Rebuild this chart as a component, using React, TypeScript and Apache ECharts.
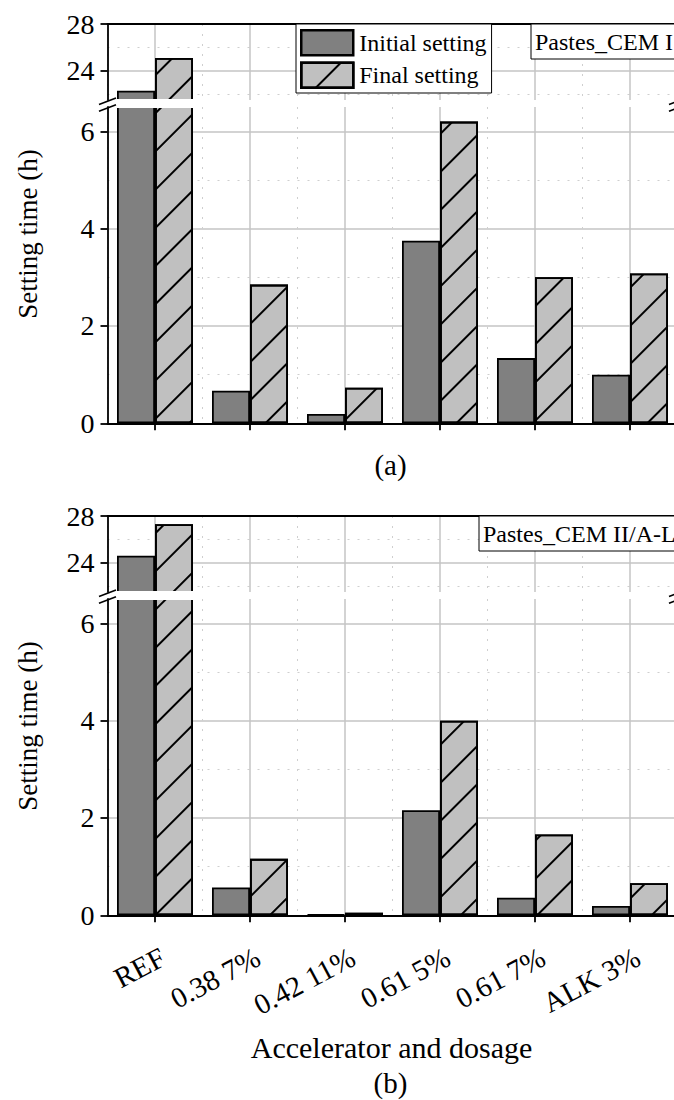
import React, { useEffect, useRef } from 'react';
import * as echarts from 'echarts';

// ---- data ----
const categories = ['REF', '0.38 7%', '0.42 11%', '0.61 5%', '0.61 7%', 'ALK 3%'];
const seriesNames = ['Initial setting', 'Final setting'];
const initialA = [22.3, 0.67, 0.19, 3.75, 1.34, 1.0];
const finalA = [25.1, 2.85, 0.73, 6.2, 3.0, 3.08];
const initialB = [24.6, 0.57, 0.02, 2.16, 0.36, 0.19];
const finalB = [27.3, 1.16, 0.05, 4.0, 1.66, 0.66];
const upperRange = [21.5, 28];
const lowerRange = [0, 6.5];
const upperTicks = [24, 28];
const upperMinorTicks = [22, 26];
const lowerTicks = [0, 2, 4, 6];
const lowerMinorTicks = [1, 3, 5];
const panelLabels = ['Pastes_CEM I', 'Pastes_CEM II/A-L'];
const captions = ['(a)', '(b)'];
const yTitle = 'Setting time (h)';
const xTitle = 'Accelerator and dosage';

// ---- layout / style ----
const FONT = '"Liberation Serif", "Times New Roman", serif';
const OFFSETS = [0, 492];
const LEFT = 107.5;
const WIDTH = 570;
const RIGHT = LEFT + WIDTH;
const BLACK = '#000';
const GRID_SOLID = '#c4c4c4';
const GRID_DOT = '#cfcfcf';
const AXIS_W = 1.8;
const hatch = {
  symbol: 'rect',
  symbolSize: 1,
  color: '#000',
  dashArrayX: [1, 0],
  dashArrayY: [2, 25],
  rotation: -Math.PI / 4,
};

function buildOption() {
  const grid: any[] = [];
  const xAxis: any[] = [];
  const yAxis: any[] = [];
  const series: any[] = [];
  const graphic: any[] = [];
  const centers = categories.map((_, i) => i + 0.5);
  const panelData = [
    [initialA, finalA],
    [initialB, finalB],
  ];

  OFFSETS.forEach((o, pi) => {
    const parts = [
      { top: 24 + o, height: 76, range: upperRange, major: upperTicks, minor: upperMinorTicks, lower: false },
      { top: 107 + o, height: 316.3, range: lowerRange, major: lowerTicks, minor: lowerMinorTicks, lower: true },
    ];
    parts.forEach((p) => {
      const g = grid.length;
      grid.push({ left: LEFT, top: p.top, width: WIDTH, height: p.height, containLabel: false, outerBoundsMode: 'none' });
      xAxis.push({
        type: 'category',
        gridIndex: g,
        position: 'bottom',
        data: categories,
        boundaryGap: true,
        axisLine: { show: p.lower, onZero: false, lineStyle: { color: BLACK, width: AXIS_W } },
        axisTick: { show: p.lower, alignWithLabel: true, length: 7, inside: false, lineStyle: { color: BLACK, width: AXIS_W } },
        axisLabel: {
          show: p.lower && pi === 1,
          interval: 0,
          rotate: 28,
          margin: 44,
          padding: [0, -9, 0, 0],
          fontSize: 29,
          fontFamily: FONT,
          color: BLACK,
        },
        splitLine: { show: true, interval: 0, lineStyle: { type: [2, 8], color: GRID_DOT, width: 1 } },
      });
      xAxis.push({
        type: 'value',
        gridIndex: g,
        position: 'top',
        min: 0,
        max: categories.length,
        axisLine: { show: !p.lower, onZero: false, lineStyle: { color: BLACK, width: AXIS_W } },
        axisTick: { show: false, customValues: centers },
        axisLabel: { show: false, customValues: centers },
        splitLine: { show: true, lineStyle: { color: GRID_SOLID, width: 1.5 } },
      });
      yAxis.push({
        type: 'value',
        gridIndex: g,
        position: 'left',
        min: p.range[0],
        max: p.range[1],
        axisLine: { show: true, onZero: false, lineStyle: { color: BLACK, width: AXIS_W } },
        axisTick: { show: true, length: 7, customValues: p.major, lineStyle: { color: BLACK, width: AXIS_W } },
        axisLabel: { show: true, customValues: p.major, margin: 13, fontSize: 28, fontFamily: FONT, color: BLACK },
        splitLine: { show: true, lineStyle: { color: GRID_SOLID, width: 1.5 } },
      });
      yAxis.push({
        type: 'value',
        gridIndex: g,
        position: 'right',
        min: p.range[0],
        max: p.range[1],
        axisLine: { show: false, onZero: false },
        axisTick: { show: false, customValues: p.minor },
        axisLabel: { show: false, customValues: p.minor },
        splitLine: { show: true, lineStyle: { type: [2, 8], color: GRID_DOT, width: 1 } },
      });
      const [ini, fin] = panelData[pi];
      series.push({
        type: 'bar',
        name: seriesNames[0],
        xAxisIndex: 2 * g,
        yAxisIndex: 2 * g,
        data: ini,
        barWidth: 38,
        barGap: '0%',
        clip: true,
        silent: true,
        itemStyle: { color: '#808080', borderColor: BLACK, borderWidth: AXIS_W },
      });
      series.push({
        type: 'bar',
        name: seriesNames[1],
        xAxisIndex: 2 * g,
        yAxisIndex: 2 * g,
        data: fin,
        barWidth: 38,
        barGap: '0%',
        clip: true,
        silent: true,
        itemStyle: { color: '#c0c0c0', borderColor: BLACK, borderWidth: AXIS_W, decal: hatch },
      });
    });

    // break band & marks
    graphic.push({
      type: 'rect',
      z: 100,
      shape: { x: LEFT + 1.5, y: 99 + o, width: 92, height: 9 },
      style: { fill: '#fff' },
    });
    [LEFT, RIGHT].forEach((bx) => {
      [0, 6.8].forEach((dy) => {
        graphic.push({
          type: 'line',
          z: 101,
          shape: { x1: bx - 8.5, y1: 104.5 + dy + o, x2: bx + 8.5, y2: 98 + dy + o },
          style: { stroke: BLACK, lineWidth: 1.6 },
        });
      });
    });

    // panel label box
    const label = panelLabels[pi];
    const boxLeft = pi === 0 ? 531 : 479;
    graphic.push({
      type: 'rect',
      z: 100,
      shape: { x: boxLeft, y: 24 + o, width: RIGHT - boxLeft, height: 35 },
      style: { fill: '#fff', stroke: BLACK, lineWidth: 1 },
    });
    graphic.push({
      type: 'text',
      z: 101,
      x: boxLeft + 4,
      y: 41.5 + o,
      style: { text: label, fontSize: 24, fontFamily: FONT, fill: BLACK, align: 'left', verticalAlign: 'middle' },
    });

    // y title
    graphic.push({
      type: 'text',
      z: 101,
      x: 28,
      y: 234 + o,
      rotation: Math.PI / 2,
      style: { text: yTitle, fontSize: 27, fontFamily: FONT, fill: BLACK, align: 'center', verticalAlign: 'middle' },
    });
  });

  graphic.push({
    type: 'text',
    z: 101,
    x: (LEFT + RIGHT) / 2 - 2,
    y: 465,
    style: { text: captions[0], fontSize: 29, fontFamily: FONT, fill: BLACK, align: 'center', verticalAlign: 'middle' },
  });
  graphic.push({
    type: 'text',
    z: 101,
    x: (LEFT + RIGHT) / 2 - 1,
    y: 1047.5,
    style: { text: xTitle, fontSize: 30, fontFamily: FONT, fill: BLACK, align: 'center', verticalAlign: 'middle' },
  });
  graphic.push({
    type: 'text',
    z: 101,
    x: (LEFT + RIGHT) / 2 - 2,
    y: 1083,
    style: { text: captions[1], fontSize: 29, fontFamily: FONT, fill: BLACK, align: 'center', verticalAlign: 'middle' },
  });

  return {
    animation: false,
    backgroundColor: '#fff',
    grid,
    xAxis,
    yAxis,
    series,
    graphic,
    legend: {
      data: seriesNames,
      orient: 'vertical',
      left: 296,
      top: 24,
      padding: [5, 5, 4, 4],
      itemGap: 5,
      itemWidth: 52,
      itemHeight: 25,
      icon: 'rect',
      backgroundColor: '#fff',
      borderColor: BLACK,
      borderWidth: 1,
      z: 50,
      selectedMode: false,
      textStyle: { fontSize: 24, fontFamily: FONT, color: BLACK, padding: [0, 0, 0, 1] },
      itemStyle: { borderColor: BLACK, borderWidth: 2.5 },
    },
  };
}

export default function App() {
  const ref = useRef<HTMLDivElement>(null);
  useEffect(() => {
    document.body.style.margin = '0';
    document.body.style.overflow = 'hidden';
    const chart = echarts.init(ref.current as HTMLDivElement, null, { renderer: 'svg' });
    chart.setOption(buildOption() as any);
    return () => {
      chart.dispose();
    };
  }, []);
  return <div ref={ref} style={{ position: 'fixed', left: 0, top: 0, width: 690, height: 1100 }} />;
}
